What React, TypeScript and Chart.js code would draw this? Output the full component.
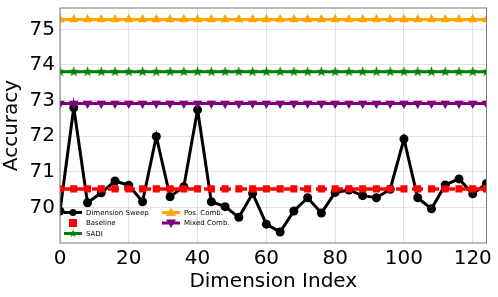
import React, { useEffect, useRef } from "react";
import { Chart, registerables } from "chart.js";

Chart.register(...registerables);

const dims = [0, 4, 8, 12, 16, 20, 24, 28, 32, 36, 40, 44, 48, 52, 56, 60, 64, 68, 72, 76, 80, 84, 88, 92, 96, 100, 104, 108, 112, 116, 120, 124];
const sweep = [69.90, 72.80, 70.13, 70.41, 70.74, 70.62, 70.16, 71.99, 70.30, 70.58, 72.74, 70.16, 70.02, 69.72, 70.39, 69.53, 69.31, 69.90, 70.27, 69.84, 70.42, 70.49, 70.33, 70.27, 70.51, 71.92, 70.27, 69.96, 70.63, 70.80, 70.38, 70.67];
const baselineValue = 70.52;
const sadiValue = 73.81;
const posCombValue = 75.28;
const mixedCombValue = 72.92;
const xTicks = [0, 20, 40, 60, 80, 100, 120];
const yTicks = [70, 71, 72, 73, 74, 75];

const FONT = "'DejaVu Sans', sans-serif";

function makeStar(color: string, r: number): HTMLCanvasElement {
  const c = document.createElement("canvas");
  const s = Math.ceil(r * 2 + 2);
  c.width = s;
  c.height = s;
  const ctx = c.getContext("2d")!;
  const cx = s / 2, cy = s / 2;
  ctx.beginPath();
  for (let i = 0; i < 10; i++) {
    const rad = i % 2 === 0 ? r : r * 0.4;
    const a = -Math.PI / 2 + (i * Math.PI) / 5;
    const x = cx + rad * Math.cos(a);
    const y = cy + rad * Math.sin(a);
    if (i === 0) ctx.moveTo(x, y);
    else ctx.lineTo(x, y);
  }
  ctx.closePath();
  ctx.fillStyle = color;
  ctx.fill();
  return c;
}

export default function App() {
  const ref = useRef<HTMLCanvasElement | null>(null);

  useEffect(() => {
    document.body.style.margin = "0";
    const star = makeStar("#008000", 5.5);
    const flat = (v: number) => dims.map((x) => ({ x, y: v }));

    const legendItems = [
      { label: "Dimension Sweep", color: "#000000", style: "circle", col: 0, row: 0 },
      { label: "Baseline", color: "#ff0000", style: "rect", col: 0, row: 1 },
      { label: "SADI", color: "#008000", style: "star", col: 0, row: 2 },
      { label: "Pos. Comb.", color: "#ffa500", style: "triangle", col: 1, row: 0 },
      { label: "Mixed Comb.", color: "#800080", style: "tridown", col: 1, row: 1 },
    ];

    const framePlugin = {
      id: "frameAndLegend",
      afterDatasetsDraw(chart: any) {
        const { ctx, chartArea: a } = chart;
        ctx.save();
        ctx.strokeStyle = "#7a7a7a";
        ctx.lineWidth = 1;
        ctx.strokeRect(a.left, a.top, a.right - a.left, a.bottom - a.top);
        ctx.restore();
      },
      afterDraw(chart: any) {
        const { ctx } = chart;
        ctx.save();
        ctx.font = `7px ${FONT}`;
        ctx.textBaseline = "middle";
        ctx.textAlign = "left";
        const colX = [64, 162];
        const rowY = [212.5, 223, 233.5];
        for (const it of legendItems) {
          const x0 = colX[it.col];
          const y = rowY[it.row];
          const x1 = x0 + 18;
          const mx = (x0 + x1) / 2;
          if (it.style !== "rect") {
            ctx.strokeStyle = it.color;
            ctx.lineWidth = 3;
            ctx.beginPath();
            ctx.moveTo(x0, y);
            ctx.lineTo(x1, y);
            ctx.stroke();
          }
          ctx.fillStyle = it.color;
          if (it.style === "circle") {
            ctx.beginPath();
            ctx.arc(mx, y, 3.5, 0, Math.PI * 2);
            ctx.fill();
          } else if (it.style === "rect") {
            ctx.fillRect(mx - 4, y - 4, 8, 8);
          } else if (it.style === "star") {
            const w = star.width * 0.8;
            ctx.drawImage(star, mx - w / 2, y - w / 2, w, w);
          } else if (it.style === "triangle") {
            ctx.beginPath();
            ctx.moveTo(mx, y - 5);
            ctx.lineTo(mx + 5, y + 3.5);
            ctx.lineTo(mx - 5, y + 3.5);
            ctx.closePath();
            ctx.fill();
          } else if (it.style === "tridown") {
            ctx.beginPath();
            ctx.moveTo(mx, y + 5);
            ctx.lineTo(mx + 5, y - 3.5);
            ctx.lineTo(mx - 5, y - 3.5);
            ctx.closePath();
            ctx.fill();
          }
          ctx.fillStyle = "#000";
          ctx.fillText(it.label, x1 + 4, y + 0.5);
        }
        ctx.restore();
      },
    };

    const chart = new Chart(ref.current!, {
      type: "line",
      data: {
        datasets: [
          {
            label: "Dimension Sweep",
            data: dims.map((x, i) => ({ x, y: sweep[i] })),
            borderColor: "#000000",
            backgroundColor: "#000000",
            borderWidth: 3,
            pointStyle: "circle",
            pointRadius: 4.5,
            pointBorderWidth: 0,
            order: 5,
            clip: 0,
          },
          {
            label: "Baseline",
            data: flat(baselineValue),
            borderColor: "#ff0000",
            backgroundColor: "#ff0000",
            borderWidth: 3.5,
            borderDash: [11, 5],
            pointStyle: "rect",
            pointRadius: 5,
            pointBorderWidth: 0,
            order: 4,
            clip: 0,
          },
          {
            label: "SADI",
            data: flat(sadiValue),
            borderColor: "#008000",
            backgroundColor: "#008000",
            borderWidth: 3,
            pointStyle: star as any,
            pointRadius: 5,
            order: 3,
            clip: 0,
          },
          {
            label: "Pos. Comb.",
            data: flat(posCombValue),
            borderColor: "#ffa500",
            backgroundColor: "#ffa500",
            borderWidth: 3,
            pointStyle: "triangle",
            pointRadius: 5.5,
            pointBorderWidth: 0,
            order: 2,
            clip: 0,
          },
          {
            label: "Mixed Comb.",
            data: flat(mixedCombValue),
            borderColor: "#800080",
            backgroundColor: "#800080",
            borderWidth: 3,
            pointStyle: "triangle",
            rotation: 180,
            pointRadius: 5.5,
            pointBorderWidth: 0,
            order: 1,
            clip: 0,
          } as any,
        ],
      },
      options: {
        animation: false,
        responsive: false,
        maintainAspectRatio: false,
        layout: { padding: { top: 5, right: 11.5, left: 0, bottom: 0 } },
        plugins: { legend: { display: false }, tooltip: { enabled: false } },
        elements: { line: { tension: 0 } },
        scales: {
          x: {
            type: "linear",
            min: 0,
            max: 124,
            afterBuildTicks: (s: any) => {
              s.ticks = xTicks.map((v) => ({ value: v }));
            },
            afterFit: (s: any) => {
              s.height = 54;
              s.paddingLeft = 0;
              s.paddingRight = 0;
            },
            grid: { color: "rgba(176,176,176,0.35)", lineWidth: 1, drawTicks: false },
            border: { display: false },
            ticks: { color: "#000", font: { family: FONT, size: 20 }, padding: 4, maxRotation: 0 },
            title: {
              display: true,
              text: "Dimension Index",
              color: "#000",
              font: { family: FONT, size: 20 },
              padding: { top: 0, bottom: 3 },
            },
          },
          y: {
            type: "linear",
            min: 69.0,
            max: 75.6,
            afterBuildTicks: (s: any) => {
              s.ticks = yTicks.map((v) => ({ value: v }));
            },
            afterFit: (s: any) => {
              s.width = 60;
              s.paddingTop = 0;
              s.paddingBottom = 0;
            },
            grid: { color: "rgba(176,176,176,0.35)", lineWidth: 1, drawTicks: false },
            border: { display: false },
            ticks: { color: "#000", font: { family: FONT, size: 20 }, padding: 5 },
            title: {
              display: true,
              text: "Accuracy",
              color: "#000",
              font: { family: FONT, size: 20 },
              padding: { top: 0, bottom: 0 },
            },
          },
        },
      },
      plugins: [framePlugin],
    } as any);
    return () => chart.destroy();
  }, []);

  return (
    <div style={{ width: 498, height: 297 }}>
      <canvas ref={ref} width={498} height={297} style={{ display: "block" }} />
    </div>
  );
}
